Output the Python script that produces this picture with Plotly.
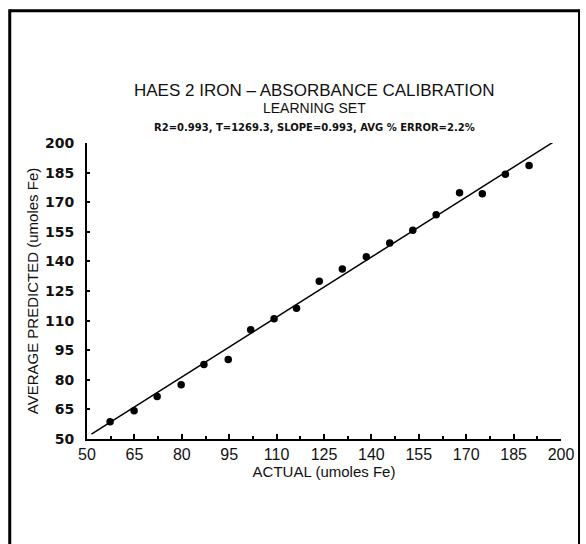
import plotly.graph_objects as go

# Data
actual = [57.3, 64.9, 72.2, 79.8, 87.0, 94.7, 101.8, 109.2, 116.3, 123.5,
          130.8, 138.4, 145.8, 153.1, 160.5, 167.9, 175.1, 182.4, 189.9]
predicted = [58.7, 64.3, 71.5, 77.5, 87.7, 90.3, 105.3, 110.9, 116.2, 130.0,
             136.1, 142.3, 149.3, 155.8, 163.7, 174.8, 174.3, 184.2, 188.6]
fit_x = [51.4, 197.4]
fit_y = [52.5, 200.3]
tick_vals = [50, 65, 80, 95, 110, 125, 140, 155, 170, 185, 200]
tick_text = [str(v) for v in tick_vals]

title_main = "HAES 2 IRON \u2013 ABSORBANCE CALIBRATION"
title_sub = "LEARNING SET"
title_stats = "R2=0.993, T=1269.3, SLOPE=0.993, AVG % ERROR=2.2%"

FONT = "Liberation Sans, Arial, sans-serif"
WIDE = "DejaVu Sans, Verdana, sans-serif"

fig = go.Figure()
fig.add_trace(go.Scatter(x=fit_x, y=fit_y, mode="lines",
                         line=dict(color="black", width=1.5),
                         showlegend=False, hoverinfo="skip"))
fig.add_trace(go.Scatter(x=actual, y=predicted, mode="markers",
                         marker=dict(color="black", size=7.5),
                         showlegend=False))

fig.update_layout(
    width=586, height=544,
    margin=dict(l=87, r=21, t=143, b=105),
    paper_bgcolor="white", plot_bgcolor="white",
    font=dict(family=FONT, color="#111"),
    xaxis=dict(range=[50, 200], tickvals=tick_vals, ticktext=tick_text,
               showgrid=False, zeroline=False, showline=True,
               linecolor="black", linewidth=2,
               ticks="inside", ticklen=5, tickcolor="black", tickwidth=1.5,
               minor=dict(dtick=7.5, tick0=50, ticks="inside", ticklen=3,
                          tickcolor="black", showgrid=False),
               tickfont=dict(size=16, family=FONT),
               title=dict(text="ACTUAL (umoles Fe)", font=dict(size=15), standoff=0)),
    yaxis=dict(range=[50, 200], tickvals=tick_vals, ticktext=tick_text,
               showgrid=False, zeroline=False, showline=True,
               linecolor="black", linewidth=2,
               ticks="inside", ticklen=3, tickcolor="black", tickwidth=1.5,
               ticklabelstandoff=8,
               tickfont=dict(size=14, family=WIDE, weight="bold"),
               title=dict(text="AVERAGE PREDICTED (umoles Fe)", font=dict(size=15), standoff=3)),
    annotations=[
        dict(text=title_main, xref="paper", yref="paper", x=0.479, y=1.176,
             showarrow=False, xanchor="center", yanchor="middle",
             font=dict(size=17, family=FONT)),
        dict(text=title_sub, xref="paper", yref="paper", x=0.479, y=1.118,
             showarrow=False, xanchor="center", yanchor="middle",
             font=dict(size=14, family=FONT)),
        dict(text=title_stats, xref="paper", yref="paper", x=0.479, y=1.054,
             showarrow=False, xanchor="center", yanchor="middle",
             font=dict(size=10, family=WIDE, weight="bold")),
    ],
    shapes=[
        dict(type="line", xref="paper", yref="paper", x0=-0.163, x1=-0.163, y0=1.452, y1=-0.5,
             line=dict(color="black", width=3)),
        dict(type="line", xref="paper", yref="paper", x0=-0.163, x1=1.038, y0=1.447, y1=1.447,
             line=dict(color="black", width=3)),
        dict(type="line", xref="paper", yref="paper", x0=1.038, x1=1.038, y0=1.452, y1=-0.5,
             line=dict(color="black", width=2)),
    ],
)

fig.write_html("out.html")
